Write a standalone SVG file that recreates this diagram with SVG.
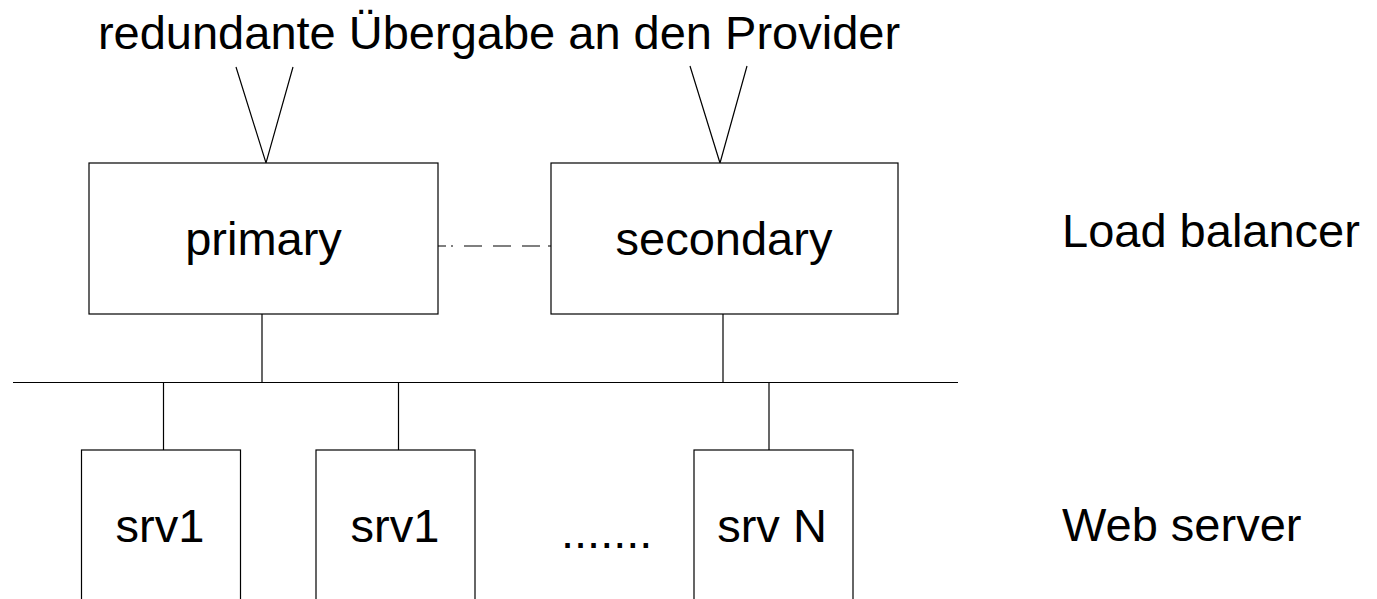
<svg xmlns="http://www.w3.org/2000/svg" width="1377" height="599" viewBox="0 0 1377 599">
  <style>
    text { font-family: "Liberation Sans", Arial, sans-serif; font-size: 47px; fill: #000; }
    .box { fill: #fff; stroke: #000; stroke-width: 1.2; }
    .ln { fill: none; stroke: #000; stroke-width: 1.2; }
  </style>
  <rect width="1377" height="599" fill="#fff"/>
  <g id="title">
    <text x="499" y="49" text-anchor="middle">redundante Übergabe an den Provider</text>
  </g>
  <g id="connectors">
    <polyline class="ln" points="236,67 266,163 293,67"/>
    <polyline class="ln" points="690,66 720,163 747,66"/>
    <path class="ln" d="M438,246 H551" stroke-dasharray="8 5 2 11 18 11 18 11 18 8 4"/>
    <line class="ln" x1="13" y1="382.5" x2="958" y2="382.5"/>
    <line class="ln" x1="262" y1="314" x2="262" y2="382"/>
    <line class="ln" x1="723" y1="314" x2="723" y2="382"/>
    <line class="ln" x1="163.5" y1="383" x2="163.5" y2="450"/>
    <line class="ln" x1="398.5" y1="383" x2="398.5" y2="450"/>
    <line class="ln" x1="769" y1="383" x2="769" y2="450"/>
  </g>
  <g id="primary">
    <rect class="box" x="89" y="163" width="349" height="151"/>
    <text x="263.5" y="255" text-anchor="middle">primary</text>
  </g>
  <g id="secondary">
    <rect class="box" x="551" y="163" width="347" height="151"/>
    <text x="724" y="255" text-anchor="middle">secondary</text>
  </g>
  <g id="srv1a">
    <rect class="box" x="81.5" y="450" width="159" height="160"/>
    <text x="160" y="542" text-anchor="middle">srv1</text>
  </g>
  <g id="srv1b">
    <rect class="box" x="316" y="450" width="159" height="160"/>
    <text x="395" y="542" text-anchor="middle">srv1</text>
  </g>
  <g id="dots">
    <text x="561" y="548">.......</text>
  </g>
  <g id="srvN">
    <rect class="box" x="694" y="450" width="159" height="160"/>
    <text x="772" y="542" text-anchor="middle">srv N</text>
  </g>
  <g id="label-lb">
    <text x="1062" y="247">Load balancer</text>
  </g>
  <g id="label-ws">
    <text x="1062" y="541">Web server</text>
  </g>
</svg>
